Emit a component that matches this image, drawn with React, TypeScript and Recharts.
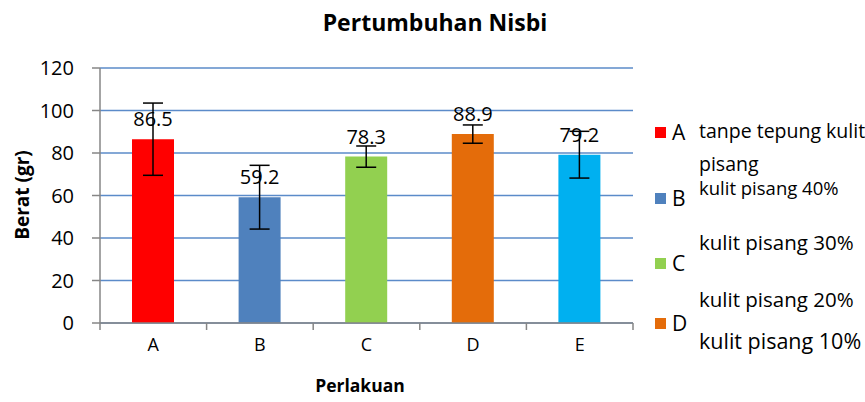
import { BarChart, Bar, XAxis, YAxis, CartesianGrid, ErrorBar, LabelList, Cell } from "recharts";

const categories = ["A", "B", "C", "D", "E"];
const means = [86.5, 59.2, 78.3, 88.9, 79.2];
const errors = [17, 15, 5, 4.3, 11];
const barColors = ["#FF0000", "#4F81BD", "#92D050", "#E46C0A", "#00B0F0"];
const yTicks = [0, 20, 40, 60, 80, 100, 120];
const legendKeys = ["A", "B", "C", "D"];
const legendNotes = [
  "tanpe tepung kulit",
  "pisang",
  "kulit pisang 40%",
  "kulit pisang 30%",
  "kulit pisang 20%",
  "kulit pisang 10%",
];

const data = categories.map((c, i) => ({ idx: i, name: c, value: means[i], err: errors[i] }));

const FONT = "'Open Sans', sans-serif";

// ticks at integers get the category letter, half steps get a tick mark
const xTicks = [-0.5, 0, 0.5, 1, 1.5, 2, 2.5, 3, 3.5, 4, 4.5];

const XTick = (props: any) => {
  const { x, y, payload } = props;
  const v = payload.value;
  if (Number.isInteger(v)) {
    return (
      <text x={x} y={y + 20} textAnchor="middle" fontSize={18} fontFamily={FONT} fill="#000">
        {categories[v]}
      </text>
    );
  }
  return <line x1={x} x2={x} y1={y - 8} y2={y - 1} stroke="#868686" strokeWidth={1.5} />;
};

const YTick = (props: any) => {
  const { x, y, payload } = props;
  return (
    <text x={x - 16} y={y + 7} textAnchor="end" fontSize={20} fontFamily={FONT} fill="#000">
      {payload.value}
    </text>
  );
};

const legendItemTop = [121, 187, 252, 312];
const noteTop = [118, 151, 175, 229, 286, 328];
const noteSize = [19.5, 19.5, 18.5, 20.5, 20.5, 21.5];

export default function App() {
  return (
    <div style={{ position: "absolute", left: 0, top: 0, width: 865, height: 402, background: "#fff", fontFamily: FONT, overflow: "hidden" }}>
      <BarChart
        width={865}
        height={402}
        data={data}
        margin={{ top: 68, right: 232, bottom: 49, left: 60 }}
      >
        <CartesianGrid vertical={false} stroke="#5B8BC9" strokeWidth={1.5} />
        <XAxis
          dataKey="idx"
          type="number"
          domain={[-0.5, 4.5]}
          ticks={xTicks}
          interval={0}
          tick={<XTick />}
          tickLine={false}
          axisLine={{ stroke: "#868686", strokeWidth: 1.5 }}
          height={30}
        />
        <YAxis
          domain={[0, 120]}
          ticks={yTicks}
          interval={0}
          width={40}
          tick={<YTick />}
          tickLine={{ stroke: "#868686", strokeWidth: 1.5 }}
          tickSize={8}
          axisLine={{ stroke: "#868686", strokeWidth: 1.5 }}
        />
        <Bar dataKey="value" barSize={42} isAnimationActive={false}>
          {data.map((d, i) => (
            <Cell key={d.name} fill={barColors[i]} />
          ))}
          <ErrorBar dataKey="err" width={10} stroke="#000" strokeWidth={1.5} />
          <LabelList dataKey="value" position="top" offset={13} fontSize={20} fill="#000" fontFamily={FONT} />
        </Bar>
      </BarChart>

      <div style={{ position: "absolute", left: 0, width: 870, top: 6, textAlign: "center", fontSize: 23, lineHeight: "32px", fontWeight: 700 }}>
        Pertumbuhan Nisbi
      </div>
      <div style={{ position: "absolute", left: 260, width: 200, top: 372, textAlign: "center", fontSize: 17.5, lineHeight: "26px", fontWeight: 700 }}>
        Perlakuan
      </div>
      <div
        style={{
          position: "absolute",
          left: 22 - 60,
          top: 195 - 13,
          width: 120,
          height: 26,
          textAlign: "center",
          fontSize: 19,
          lineHeight: "26px",
          fontWeight: 700,
          transform: "rotate(-90deg)",
        }}
      >
        Berat (gr)
      </div>

      {legendKeys.map((k, i) => (
        <div key={k} style={{ position: "absolute", left: 655, top: legendItemTop[i], display: "flex", alignItems: "center", fontSize: 21, lineHeight: "22px" }}>
          <span style={{ width: 11, height: 11, background: barColors[i], display: "inline-block", marginRight: 6 }} />
          <span>{k}</span>
        </div>
      ))}
      {legendNotes.map((t, i) => (
        <div key={i} style={{ position: "absolute", left: 699, top: noteTop[i], fontSize: noteSize[i], lineHeight: "26px", whiteSpace: "nowrap" }}>
          {t}
        </div>
      ))}
    </div>
  );
}
